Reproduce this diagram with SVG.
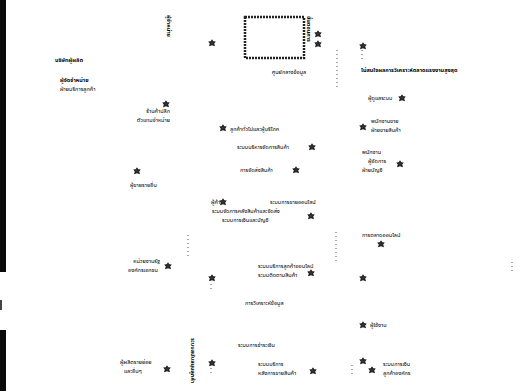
<svg xmlns="http://www.w3.org/2000/svg" width="524" height="391" viewBox="0 0 524 391">
<style>
text{font-family:"Noto Sans Thai","Noto Sans","DejaVu Sans",sans-serif;font-size:5.5px;fill:#000;}
.b{font-weight:bold;}
.v{font-weight:bold;font-size:5.5px;}
.dot{stroke:#555;stroke-width:1;stroke-dasharray:1 3;fill:none;}
</style>
<defs>
<g id="ic"><path d="M0,-3.8 L1.3,-1.8 L3.8,-1.6 L2.2,0.4 L3,3.2 L0,2.2 L-3,3.2 L-2.2,0.4 L-3.8,-1.6 L-1.3,-1.8 Z" fill="#1a1a1a"/><circle r="1.8" fill="#333"/></g>
</defs>
<rect x="0" y="0" width="6" height="272" fill="#0a0a0a"/>
<rect x="0" y="330" width="6" height="61" fill="#0a0a0a"/>
<rect x="0" y="300" width="2" height="10" fill="#444"/>

<g id="connectors">
<line class="dot" x1="188" y1="235" x2="188" y2="258"/>
<line class="dot" x1="336" y1="232" x2="336" y2="262"/>
<line class="dot" x1="337" y1="50" x2="337" y2="90"/>
<line class="dot" x1="512" y1="262" x2="512" y2="274"/>
<line class="dot" x1="362" y1="50" x2="362" y2="60"/>
<line class="dot" x1="211" y1="284" x2="211" y2="292"/>
<line class="dot" x1="211" y1="368" x2="211" y2="374"/>
<line class="dot" x1="352" y1="365" x2="352" y2="376"/>
</g>

<g id="n-center">
<rect x="245" y="17" width="59" height="41" fill="none" stroke="#222" stroke-width="2.5" stroke-dasharray="2 1"/>
<text x="289" y="74" text-anchor="middle">ศูนย์กลางข้อมูล</text>
</g>
<g id="n-vert1"><text class="v" transform="translate(167,15) rotate(90)">ผู้จำหน่าย</text></g>
<g id="n-vert2"><text class="v" transform="translate(307,16) rotate(90)">ขั้นตอนการ</text><use href="#ic" x="318" y="34"/><use href="#ic" x="318" y="44"/></g>
<g id="n-vert3"><text class="v" transform="translate(191,338) rotate(90)">ระบบสนับสนุนลูกค้า</text></g>
<g id="n-a"><text class="b" x="55" y="62">บริษัทผู้ผลิต</text></g>
<g id="n-b"><text class="b" x="60" y="82">ผู้จัดจำหน่าย</text><text x="60" y="91">ฝ่ายบริการลูกค้า</text></g>
<g id="n-c"><use href="#ic" x="166" y="104"/><text x="170" y="113" text-anchor="end">ร้านค้าปลีก</text><text x="170" y="122" text-anchor="end">ตัวแทนจำหน่าย</text></g>
<g id="n-d"><use href="#ic" x="212" y="43"/></g>
<g id="n-e"><use href="#ic" x="363" y="46"/><text class="b" x="361" y="72">ไม่สนใจผลการวิเคราะห์ตลาดแรงงานสูงสุด</text></g>
<g id="n-f"><text x="368" y="100">ผู้ดูแลระบบ</text><use href="#ic" x="402" y="98"/></g>
<g id="n-g"><use href="#ic" x="363" y="127"/><text x="371" y="123">พนักงานขาย</text><text x="371" y="132">ฝ่ายขายสินค้า</text></g>
<g id="n-h"><use href="#ic" x="223" y="128"/><text x="230" y="131">ลูกค้าทั่วไปและผู้บริโภค</text></g>
<g id="n-i"><text x="237" y="149">ระบบบริหารจัดการสินค้า</text><use href="#ic" x="312" y="147"/></g>
<g id="n-j"><text x="240" y="172">การจัดส่งสินค้า</text><use href="#ic" x="296" y="170"/></g>
<g id="n-k"><use href="#ic" x="137" y="171"/><text x="130" y="187">ผู้ขายรายอื่น</text></g>
<g id="n-l"><text x="362" y="154">พนักงาน</text><text x="368" y="163">ผู้จัดการ</text><text x="362" y="172">ฝ่ายบัญชี</text><use href="#ic" x="400" y="164"/></g>
<g id="n-m"><text x="211" y="204">ผู้ค้า</text><use href="#ic" x="223" y="202"/><text x="270" y="204">ระบบการขายออนไลน์</text><text x="212" y="213">ระบบจัดการคลังสินค้าและจัดส่ง</text><text x="222" y="222">ระบบการเงินและบัญชี</text><use href="#ic" x="311" y="216"/></g>
<g id="n-n"><text x="362" y="237">การตลาดออนไลน์</text><use href="#ic" x="381" y="244"/></g>
<g id="n-o"><text x="160" y="263" text-anchor="end">หน่วยงานรัฐ</text><text x="158" y="272" text-anchor="end">องค์กรเอกชน</text><use href="#ic" x="168" y="266"/></g>
<g id="n-p"><text x="258" y="268">ระบบบริการลูกค้าออนไลน์</text><text x="258" y="277">ระบบติดตามสินค้า</text><use href="#ic" x="311" y="273"/><use href="#ic" x="212" y="278"/></g>
<g id="n-q"><use href="#ic" x="363" y="278"/></g>
<g id="n-r"><text x="245" y="305">การวิเคราะห์ข้อมูล</text></g>
<g id="n-s"><use href="#ic" x="363" y="325"/><text x="370" y="327">ผู้ใช้งาน</text></g>
<g id="n-t"><text x="238" y="347">ระบบการชำระเงิน</text></g>
<g id="n-u"><use href="#ic" x="212" y="363"/><text x="258" y="366">ระบบบริการ</text><text x="258" y="375">หลังการขายสินค้า</text><use href="#ic" x="313" y="371"/></g>
<g id="n-v"><text x="120" y="364">ผู้ผลิตรายย่อย</text><text x="124" y="373">และอื่นๆ</text><use href="#ic" x="167" y="369"/></g>
<g id="n-w"><use href="#ic" x="363" y="361"/><use href="#ic" x="372" y="370"/><text x="383" y="366">ระบบการเงิน</text><text x="383" y="375">ลูกค้าองค์กร</text></g>
</svg>
